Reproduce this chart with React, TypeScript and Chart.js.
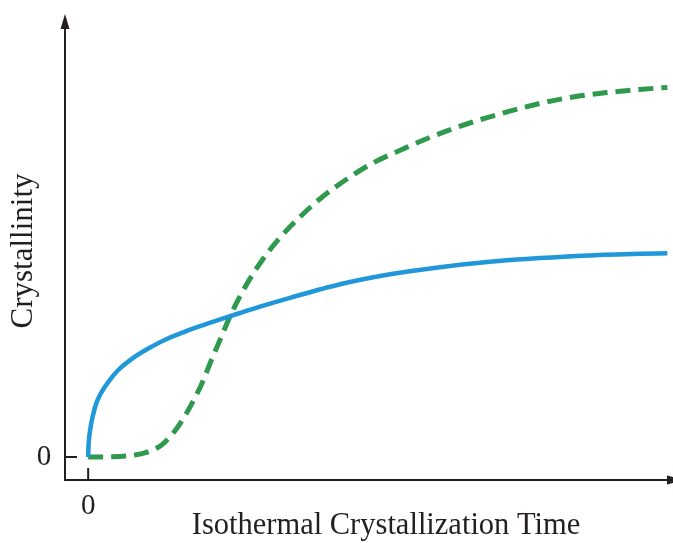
import React, { useEffect, useRef } from "react";
import { Chart, registerables } from "chart.js";

Chart.register(...registerables);

const blueTime = [0, 0.017, 0.056, 0.12, 0.21, 0.34, 0.51, 0.73, 0.98, 1.3, 2.02, 2.74, 3.46, 4.18, 4.83, 5.7, 6.55, 7.42, 8.71, 10.87, 13.03, 15.18, 17.34, 19.5, 21.66, 23.82, 25];
const blueCryst = [0, 3, 5.5, 8, 10.5, 13.25, 15.5, 17.6, 19.6, 21.75, 25.1, 27.6, 29.7, 31.35, 32.7, 34.4, 36.0, 37.6, 39.8, 43.2, 45.7, 47.45, 48.8, 49.75, 50.4, 50.8, 50.95];

const greenTime = [0, 0.94, 2.02, 2.58, 3.17, 3.66, 4.07, 4.48, 4.91, 5.32, 5.75, 6.18, 6.85, 7.54, 8.23, 9.14, 10.0, 11.17, 12.29, 13.59, 14.75, 16.6, 18.07, 19.49, 20.92, 22.39, 23.81, 25];
const greenCryst = [0, 0.05, 0.5, 1.3, 3.0, 5.9, 9.25, 13.4, 18.4, 24.25, 30.1, 35.9, 43.25, 49.45, 54.5, 60, 64.5, 69.5, 73.5, 77, 79.9, 83.75, 86.25, 88.4, 90, 91.1, 91.9, 92.4];

const xTickLabels = ["0"];
const yTickLabels = ["0"];
const xTitle = "Isothermal Crystallization Time";
const yTitle = "Crystallinity";

const AXIS_COLOR = "#231f20";
const FONT = "'Liberation Serif', 'DejaVu Serif', serif";

const axesPlugin = {
  id: "customAxes",
  afterDatasetsDraw(chart: any) {
    const { ctx, chartArea, scales } = chart;
    const xs = scales.x;
    const ys = scales.y;
    const left = chartArea.left;
    const bottom = chartArea.bottom;
    ctx.save();
    ctx.strokeStyle = AXIS_COLOR;
    ctx.fillStyle = AXIS_COLOR;
    ctx.lineWidth = 2;
    // y axis
    ctx.beginPath();
    ctx.moveTo(left, bottom + 1);
    ctx.lineTo(left, chartArea.top + 10);
    ctx.stroke();
    ctx.beginPath();
    ctx.moveTo(left, chartArea.top - 1);
    ctx.lineTo(left - 4.5, chartArea.top + 14);
    ctx.lineTo(left + 4.5, chartArea.top + 14);
    ctx.closePath();
    ctx.fill();
    // x axis
    ctx.beginPath();
    ctx.moveTo(left - 1, bottom);
    ctx.lineTo(chartArea.right - 2, bottom);
    ctx.stroke();
    ctx.beginPath();
    ctx.moveTo(chartArea.right + 12, bottom);
    ctx.lineTo(chartArea.right - 5, bottom - 4.5);
    ctx.lineTo(chartArea.right - 5, bottom + 4.5);
    ctx.closePath();
    ctx.fill();
    // ticks (inward)
    const y0 = ys.getPixelForValue(0);
    const x0 = xs.getPixelForValue(0);
    ctx.beginPath();
    ctx.moveTo(left, y0);
    ctx.lineTo(left + 12, y0);
    ctx.moveTo(x0, bottom);
    ctx.lineTo(x0, bottom - 12);
    ctx.stroke();
    // tick labels
    ctx.font = `29px ${FONT}`;
    ctx.textAlign = "center";
    ctx.textBaseline = "middle";
    ctx.fillText(yTickLabels[0], left - 21, y0);
    ctx.fillText(xTickLabels[0], x0, bottom + 26);
    // titles
    ctx.font = `30.5px ${FONT}`;
    ctx.fillText(xTitle, 386, bottom + 46);
    ctx.save();
    ctx.translate(24, 251);
    ctx.rotate(-Math.PI / 2);
    ctx.font = `31px ${FONT}`;
    ctx.fillText(yTitle, 0, 0);
    ctx.restore();
    ctx.restore();
  },
};

export default function App() {
  const canvasRef = useRef<HTMLCanvasElement | null>(null);

  useEffect(() => {
    const canvas = canvasRef.current;
    if (!canvas) return;
    const chart = new Chart(canvas, {
      type: "line",
      data: {
        datasets: [
          {
            label: "Blue",
            data: blueTime.map((t, i) => ({ x: t, y: blueCryst[i] })),
            borderColor: "#1f97d9",
            borderWidth: 4.5,
            pointRadius: 0,
            cubicInterpolationMode: "monotone",
            fill: false,
            borderCapStyle: "butt",
          },
          {
            label: "Green",
            data: greenTime.map((t, i) => ({ x: t, y: greenCryst[i] })),
            borderColor: "#2f9a4e",
            borderWidth: 5,
            borderDash: [15, 8],
            pointRadius: 0,
            cubicInterpolationMode: "monotone",
            fill: false,
            borderCapStyle: "butt",
          },
        ],
      },
      options: {
        animation: false,
        responsive: false,
        maintainAspectRatio: false,
        layout: { padding: { left: 65, right: 1, top: 15, bottom: 63 } },
        plugins: {
          legend: { display: false },
          tooltip: { enabled: false },
        },
        scales: {
          x: { type: "linear", min: -1, max: 25.2, display: false },
          y: { type: "linear", min: -5.75, max: 110.5, display: false },
        },
      },
      plugins: [axesPlugin],
    });
    return () => chart.destroy();
  }, []);

  return (
    <div style={{ position: "absolute", left: 0, top: 0, width: 673, height: 543, background: "#fff" }}>
      <canvas ref={canvasRef} width={673} height={543} style={{ display: "block", width: 673, height: 543 }} />
    </div>
  );
}
